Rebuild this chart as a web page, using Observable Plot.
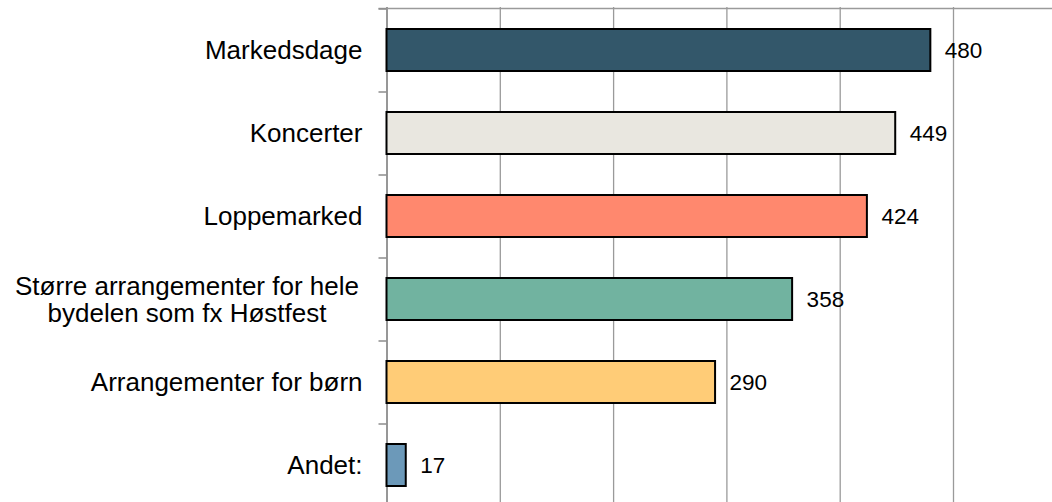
<!DOCTYPE html>
<html>
<head>
<meta charset="utf-8">
<script src="https://cdn.jsdelivr.net/npm/d3@7"></script>
<script src="https://cdn.jsdelivr.net/npm/@observablehq/plot@0.6"></script>
<style>
  html, body { margin: 0; padding: 0; background: #fff; }
  #chart svg { display: block; }
</style>
</head>
<body>
<div id="chart"></div>
<script>
const categories = [
  "Markedsdage",
  "Koncerter",
  "Loppemarked",
  "Større arrangementer for hele\nbydelen som fx Høstfest",
  "Arrangementer for børn",
  "Andet:"
];
const values = [480, 449, 424, 358, 290, 17];
const colors = ["#33576a", "#e9e7e0", "#ff886e", "#71b3a0", "#ffcc77", "#6c99b9"];
const xTicks = [100, 200, 300, 400, 500];

const data = categories.map((c, i) => ({cat: c, value: values[i], color: colors[i]}));
const singleLine = categories.filter(c => !c.includes("\n"));
const multiLine = categories.filter(c => c.includes("\n"));

const font = "'Liberation Sans', Arial, Helvetica, sans-serif";

const chart = Plot.plot({
  width: 1052,
  height: 502,
  marginTop: 7,
  marginBottom: 0,
  marginLeft: 0,
  marginRight: 0,
  style: {background: "#fff", fontFamily: font},
  x: {domain: [0, 500], range: [386.5, 953], axis: null},
  y: {domain: categories, range: [8, 506], paddingInner: 0.5, paddingOuter: 0.25, axis: null},
  color: {type: "identity"},
  marks: [
    Plot.ruleX(xTicks, {stroke: "#9a9a9a", strokeWidth: 1.3}),
    Plot.ruleX([0], {stroke: "#8c8c8c", strokeWidth: 1.8}),
    Plot.ruleY([categories[0]], {x1: 0, x2: 500, insetLeft: -8, insetRight: -100, dy: -42, stroke: "#9a9a9a", strokeWidth: 1.5}),
    Plot.ruleY(categories, {x1: 0, x2: 0, insetLeft: -8, dy: -41.5, stroke: "#8c8c8c", strokeWidth: 1.5}),
    Plot.barX(data, {x: "value", y: "cat", fill: "color", stroke: "#000", strokeWidth: 2}),
    Plot.text(singleLine, {x: 0, y: d => d, text: d => d, textAnchor: "end", dx: -24.5, fontSize: 26, fill: "#000"}),
    Plot.text(multiLine, {x: 0, y: d => d, text: d => d, textAnchor: "middle", dx: -200, fontSize: 26, lineHeight: 1.05, fill: "#000"}),
    Plot.text(data, {x: "value", y: "cat", text: d => String(d.value), textAnchor: "start", dx: 14, fontSize: 22.5, fill: "#000"})
  ]
});
document.getElementById("chart").appendChild(chart);
</script>
</body>
</html>
